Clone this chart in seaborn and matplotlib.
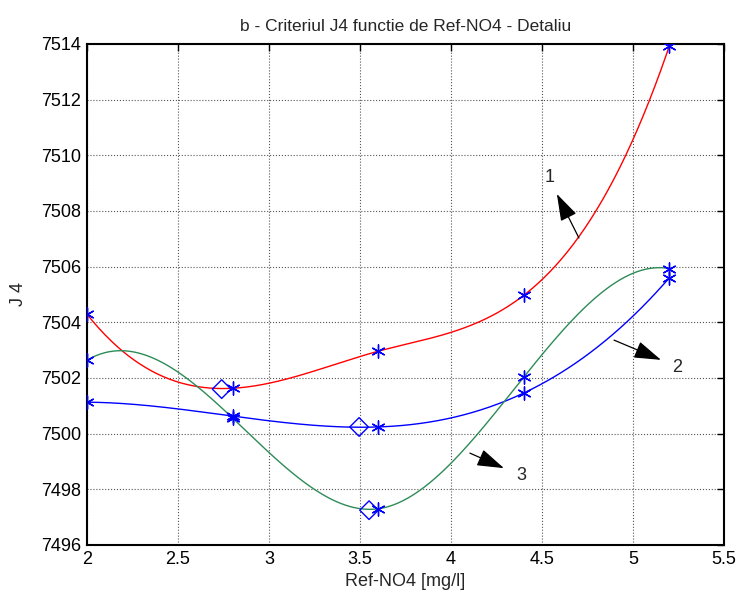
import numpy as np
import pandas as pd
import matplotlib
matplotlib.use("Agg")
import matplotlib.pyplot as plt
import seaborn as sns

# Ref-NO4 setpoints [mg/l] and criterion J4 for the three cases
ref_no4 = [2.0, 2.8, 3.6, 4.4, 5.2]
j4_case1 = [7504.29, 7501.63, 7502.96, 7504.97, 7513.93]
j4_case2 = [7501.13, 7500.63, 7500.24, 7501.46, 7505.60]
j4_case3 = [7502.64, 7500.56, 7497.30, 7502.03, 7505.93]

# minima of each interpolated curve
min_x = [2.74, 3.495, 3.55]
min_j4 = [7501.60, 7500.24, 7497.25]

x_ticks = [2, 2.5, 3, 3.5, 4, 4.5, 5, 5.5]
x_tick_labels = ["2", "2.5", "3", "3.5", "4", "4.5", "5", "5.5"]
y_ticks = [7496, 7498, 7500, 7502, 7504, 7506, 7508, 7510, 7512, 7514]


def notaknot_spline(x, y, xs):
    """Cubic spline with not-a-knot end conditions."""
    x = np.asarray(x, float)
    y = np.asarray(y, float)
    n = len(x)
    h = np.diff(x)
    A = np.zeros((n, n))
    b = np.zeros(n)
    A[0, 0], A[0, 1], A[0, 2] = h[1], -(h[0] + h[1]), h[0]
    A[-1, -3], A[-1, -2], A[-1, -1] = h[-1], -(h[-2] + h[-1]), h[-2]
    for i in range(1, n - 1):
        A[i, i - 1] = h[i - 1]
        A[i, i] = 2 * (h[i - 1] + h[i])
        A[i, i + 1] = h[i]
        b[i] = 6 * ((y[i + 1] - y[i]) / h[i] - (y[i] - y[i - 1]) / h[i - 1])
    M = np.linalg.solve(A, b)
    idx = np.clip(np.searchsorted(x, xs) - 1, 0, n - 2)
    x0, x1 = x[idx], x[idx + 1]
    hh = x1 - x0
    t0, t1 = x1 - xs, xs - x0
    return (M[idx] * t0 ** 3 / (6 * hh) + M[idx + 1] * t1 ** 3 / (6 * hh)
            + (y[idx] / hh - M[idx] * hh / 6) * t0
            + (y[idx + 1] / hh - M[idx + 1] * hh / 6) * t1)


sns.set_theme(style="white")
plt.rcParams["font.family"] = ["Liberation Sans", "DejaVu Sans"]

fig = plt.figure(figsize=(7.41, 5.99), dpi=100)
ax = fig.add_axes([0.1174, 0.0902, 0.8596, 0.8364])

xs = np.linspace(ref_no4[0], ref_no4[-1], 400)
curves = [(j4_case1, "#ff0000"), (j4_case2, "#0000ff"), (j4_case3, "#2e8b57")]
for vals, col in curves:
    df = pd.DataFrame({"x": xs, "y": notaknot_spline(ref_no4, vals, xs)})
    sns.lineplot(data=df, x="x", y="y", ax=ax, color=col, linewidth=1.0,
                 estimator=None, sort=False)

pts = pd.DataFrame({"x": ref_no4 * 3, "y": j4_case1 + j4_case2 + j4_case3})
sns.scatterplot(data=pts, x="x", y="y", ax=ax, marker=(6, 2, 0), s=90,
                color="#0000ff", edgecolor="#0000ff", linewidth=1.0, zorder=5)
mins = pd.DataFrame({"x": min_x, "y": min_j4})
sns.scatterplot(data=mins, x="x", y="y", ax=ax, marker="D", s=90,
                facecolors="none", edgecolor="#0000ff", linewidth=1.0, zorder=5)

# curve labels with arrows
arrow_kw = dict(arrowstyle="-|>,head_length=1.4,head_width=0.45",
                color="black", lw=0.9, shrinkA=0, shrinkB=0)
ax.annotate("", xy=(4.582, 7508.61), xytext=(4.703, 7507.03), arrowprops=arrow_kw)
ax.annotate("", xy=(5.154, 7502.65), xytext=(4.896, 7503.36), arrowprops=arrow_kw)
ax.annotate("", xy=(4.291, 7498.76), xytext=(4.104, 7499.30), arrowprops=arrow_kw)
ax.text(4.544, 7509.2, "1", fontsize=13, ha="center", va="center")
ax.text(5.242, 7502.36, "2", fontsize=13, ha="center", va="center")
ax.text(4.385, 7498.51, "3", fontsize=13, ha="center", va="center")

ax.set_xlim(2, 5.5)
ax.set_ylim(7496, 7514)
ax.set_xticks(x_ticks)
ax.set_xticklabels(x_tick_labels)
ax.set_yticks(y_ticks)
ax.set_yticklabels([str(v) for v in y_ticks])
ax.tick_params(direction="in", length=5, width=1, top=True, right=True,
               labelsize=13, colors="black", pad=4)
ax.grid(True, color="#555555", linestyle=":", linewidth=0.8)
for sp in ax.spines.values():
    sp.set_color("black")
    sp.set_linewidth(1.5)

ax.set_xlabel("Ref-NO4 [mg/l]", fontsize=13, labelpad=4)
ax.set_ylabel("J 4", fontsize=13, labelpad=10)
ax.set_title("b - Criteriul J4 functie de Ref-NO4 - Detaliu", fontsize=12.5, pad=9)

fig.savefig("out.png", dpi=100)
